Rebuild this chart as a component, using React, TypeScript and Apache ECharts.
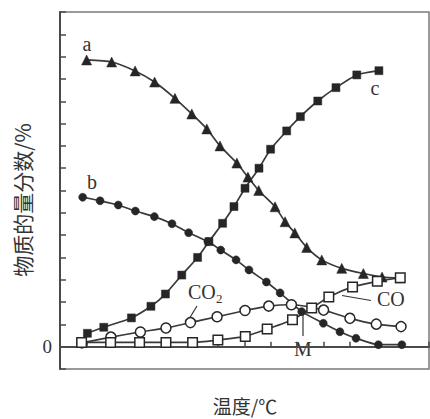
import React, { useEffect, useRef } from "react";
import * as echarts from "echarts";

// Mole fraction curves vs. temperature, [x, y] pairs on a 0–14 temperature scale
const curveA: [number, number][] = [
  [1.01, 12.85], [1.96, 12.76], [2.85, 12.36], [3.59, 11.86], [4.36, 11.13],
  [5.0, 10.43], [5.57, 9.76], [6.07, 9.0], [6.71, 8.23], [7.13, 7.6],
  [7.54, 7.0], [8.16, 6.27], [8.54, 5.6], [8.91, 5.1], [9.36, 4.45],
  [9.93, 3.89], [10.69, 3.51], [11.51, 3.28], [12.22, 3.12], [12.9, 3.08],
];
const curveB: [number, number][] = [
  [0.86, 6.7], [1.52, 6.54], [2.21, 6.35], [2.86, 6.08], [3.58, 5.83],
  [4.25, 5.51], [4.88, 5.11], [5.61, 4.71], [6.1, 4.33], [6.68, 3.89],
  [7.17, 3.44], [7.83, 2.9], [8.35, 2.41], [9.17, 1.57], [9.99, 1.05],
  [10.62, 0.67], [11.23, 0.38], [12.08, 0.09], [12.97, 0.09],
];
const curveC: [number, number][] = [
  [1.04, 0.6], [1.66, 0.87], [2.71, 1.29], [3.45, 1.81], [4.0, 2.36],
  [4.62, 3.21], [5.22, 4.0], [5.65, 4.71], [6.17, 5.53], [6.6, 6.28],
  [7.02, 7.1], [7.55, 8.0], [7.99, 8.85], [8.6, 9.67], [9.12, 10.31],
  [9.78, 11.01], [10.47, 11.61], [11.26, 12.18], [12.1, 12.37],
];
const curveCO2: [number, number][] = [
  [0.83, 0.17], [1.93, 0.43], [3.05, 0.66], [4.02, 0.84], [4.95, 1.08],
  [5.96, 1.34], [7.02, 1.62], [7.92, 1.82], [8.78, 1.88], [10.0, 1.64],
  [11.0, 1.27], [12.0, 1.01], [12.94, 0.9],
];
const curveCO: [number, number][] = [
  [0.82, 0.19], [1.92, 0.19], [3.02, 0.19], [4.02, 0.19], [5.03, 0.19],
  [5.99, 0.3], [7.03, 0.46], [7.86, 0.79], [8.82, 1.21], [9.55, 1.73],
  [10.2, 2.23], [11.1, 2.68], [12.04, 2.93], [12.91, 3.09],
];

const yTickLabels: Record<number, string> = { 0: "0" };

const SERIF = '"Liberation Serif", "Times New Roman", serif';
const CJK = '"Noto Sans CJK SC", sans-serif';
const INK = "#262626";

function lineSeries(
  name: string,
  data: [number, number][],
  symbol: string,
  size: number,
  hollow: boolean
) {
  return {
    name,
    type: "line",
    data,
    smooth: 0.2,
    symbol,
    symbolSize: size,
    showSymbol: true,
    lineStyle: { color: "#3a3a3a", width: 1.7 },
    itemStyle: hollow
      ? { color: "#ffffff", borderColor: INK, borderWidth: 1.5 }
      : { color: INK, borderColor: INK, borderWidth: 0.5 },
    emphasis: { disabled: true },
  };
}

export default function App() {
  const ref = useRef<HTMLDivElement>(null);

  useEffect(() => {
    if (!ref.current) return;
    const chart = echarts.init(ref.current, null, { renderer: "svg" });
    chart.setOption({
      animation: false,
      backgroundColor: "#ffffff",
      grid: {
        left: 60,
        right: 1,
        top: 12,
        bottom: 50,
        show: true,
        borderColor: "#7a7a7a",
        borderWidth: 1.5,
      },
      xAxis: {
        type: "value",
        min: 0,
        max: 14,
        interval: 1,
        axisLine: { show: true, lineStyle: { color: "#4a4a4a", width: 2 } },
        axisTick: { show: true, inside: true, length: 5, lineStyle: { color: "#4a4a4a", width: 1.5 } },
        axisLabel: { show: false },
        splitLine: { show: false },
      },
      yAxis: {
        type: "value",
        min: -1,
        max: 15,
        interval: 1,
        axisLine: { show: true, lineStyle: { color: "#4a4a4a", width: 2 } },
        axisTick: { show: true, inside: true, length: 6, lineStyle: { color: "#4a4a4a", width: 1.5 } },
        axisLabel: {
          show: true,
          margin: 8,
          fontFamily: SERIF,
          fontSize: 19,
          color: "#333",
          formatter: (v: number) => yTickLabels[v] ?? "",
        },
        splitLine: { show: false },
      },
      series: [
        lineSeries("a", curveA, "triangle", 10, false),
        lineSeries("b", curveB, "circle", 8, false),
        lineSeries("c", curveC, "rect", 8, false),
        lineSeries("CO2", curveCO2, "circle", 10, true),
        lineSeries("CO", curveCO, "rect", 9.5, true),
      ],
      graphic: [
        {
          type: "text",
          x: 22,
          y: 200,
          rotation: Math.PI / 2,
          style: { text: "物质的量分数/%", font: `21px ${CJK}`, fill: "#333", align: "center", verticalAlign: "middle" },
        },
        {
          type: "text",
          x: 245,
          y: 405,
          style: { text: "温度/℃", font: `19px ${CJK}`, fill: "#333", align: "center", verticalAlign: "middle" },
        },
        { type: "text", x: 87, y: 44, style: { text: "a", font: `20px ${SERIF}`, fill: "#333", align: "center", verticalAlign: "middle" } },
        { type: "text", x: 92, y: 182, style: { text: "b", font: `20px ${SERIF}`, fill: "#333", align: "center", verticalAlign: "middle" } },
        { type: "text", x: 375, y: 88, style: { text: "c", font: `20px ${SERIF}`, fill: "#333", align: "center", verticalAlign: "middle" } },
        { type: "text", x: 188, y: 292, style: { text: "CO", font: `20px ${SERIF}`, fill: "#333", align: "left", verticalAlign: "middle" } },
        { type: "text", x: 216, y: 298, style: { text: "2", font: `13px ${SERIF}`, fill: "#333", align: "left", verticalAlign: "middle" } },
        { type: "line", shape: { x1: 197, y1: 306, x2: 189, y2: 319 }, style: { stroke: "#333", lineWidth: 1.2 } },
        { type: "text", x: 377, y: 299, style: { text: "CO", font: `20px ${SERIF}`, fill: "#333", align: "left", verticalAlign: "middle" } },
        { type: "line", shape: { x1: 342, y1: 295.5, x2: 371, y2: 300.5 }, style: { stroke: "#333", lineWidth: 1.2 } },
        { type: "line", shape: { x1: 303, y1: 314, x2: 303, y2: 336 }, style: { stroke: "#333", lineWidth: 1.2 } },
        { type: "text", x: 303, y: 349, style: { text: "M", font: `20px ${SERIF}`, fill: "#333", align: "center", verticalAlign: "middle" } },
      ],
    });
    return () => chart.dispose();
  }, []);

  return (
    <div
      ref={ref}
      style={{ position: "fixed", left: 0, top: 0, width: 430, height: 419 }}
    />
  );
}
